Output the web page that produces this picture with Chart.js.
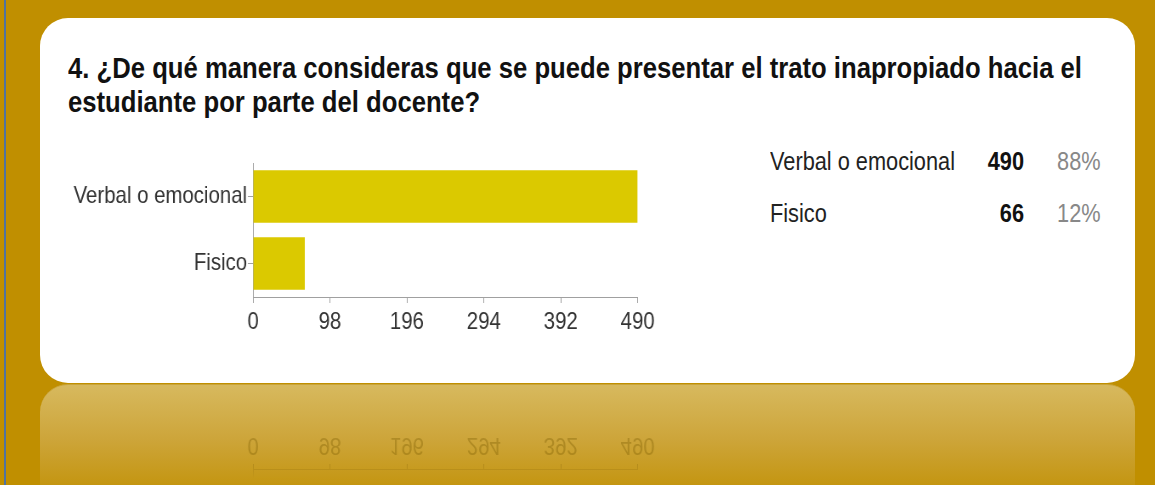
<!DOCTYPE html>
<html>
<head>
<meta charset="utf-8">
<script src="https://cdn.jsdelivr.net/npm/chart.js@4/dist/chart.umd.min.js"></script>
<style>
  html, body { margin: 0; padding: 0; }
  body {
    width: 1155px; height: 485px; overflow: hidden; position: relative;
    background: #c08f00;
    font-family: "Liberation Sans", Arial, sans-serif;
  }
  #edge { position: absolute; left: 4px; top: 0; width: 2px; height: 485px; background: #4f73a0; }
  #card {
    position: absolute; left: 40px; top: 18px; width: 1095px; height: 365px;
    background: #fff; border-radius: 28px; overflow: hidden;
  }
  #reflect {
    position: absolute; left: 40px; top: 384px; width: 1095px; height: 120px;
    border-radius: 28px 28px 0 0; overflow: hidden;
    background: linear-gradient(to bottom, #d7b95e 0%, #cda53a 45%, #c08f00 100%);
    border-top: 1px solid #c9a43a;
  }
  #fade {
    position: absolute; left: 0; top: 0; width: 100%; height: 100%;
    -webkit-mask-image: linear-gradient(to bottom, #000 0px, #000 80px, transparent 94px);
    mask-image: linear-gradient(to bottom, #000 0px, #000 80px, transparent 94px);
  }
  #title {
    position: absolute; left: 28px; top: 33px; width: 1200px;
    font-weight: bold; font-size: 29px; line-height: 34px; color: #111;
  }
  #title span { display: inline-block; white-space: nowrap; transform-origin: 0 50%; }
  /* chart is drawn wider and squeezed, like the narrow face of the original */
  .chartbox {
    position: absolute; left: 20px; top: 122px; width: 729px; height: 197px;
    transform-origin: 0 50%; transform: scaleX(0.85);
  }
  #reflectBox { transform: scaleY(-1) scaleX(0.85); opacity: 0.35; top: 45px; }
  #table {
    position: absolute; left: 730px; top: 129px; font-size: 25px; color: #222;
    transform-origin: 0 0; transform: scaleX(0.87);
  }
  #table div { position: relative; height: 52px; width: 420px; }
  #table span { position: absolute; top: 0; }
  .lab { left: 0; }
  .cnt { right: 128px; font-weight: bold; color: #111; }
  .pct { left: 330px; color: #888; }
</style>
</head>
<body>
<div id="edge"></div>
<div id="card">
  <div id="title"><span id="t1">4. ¿De qué manera consideras que se puede presentar el trato inapropiado hacia el</span><br><span id="t2">estudiante por parte del docente?</span></div>
  <div class="chartbox"><canvas id="chart"></canvas></div>
  <div id="table"></div>
</div>
<div id="reflect">
  <div id="fade">
    <div class="chartbox" id="reflectBox"><canvas id="chartReflect"></canvas></div>
  </div>
</div>
<script>
const categories = ['Verbal o emocional', 'Fisico'];
const counts = [490, 66];
const percents = ['88%', '12%'];
const xTicks = [0, 98, 196, 294, 392, 490];

const barColor = '#dbc900';
const axisColor = '#a0a0a0';
const fontFamily = '"Liberation Sans", Arial, sans-serif';
const squeezeX = 0.85;

// the original title is set in a narrow face: squeeze the first line to its width
const t1 = document.getElementById('t1');
const squeeze = 1014 / t1.getBoundingClientRect().width;
t1.style.transform = 'scaleX(' + squeeze + ')';
document.getElementById('t2').style.transform = 'scaleX(' + squeeze + ')';

function makeChart(canvasId, textColor, lineColor) {
  const ctx = document.getElementById(canvasId).getContext('2d');
  return new Chart(ctx, {
    type: 'bar',
    data: {
      labels: categories,
      datasets: [{
        data: counts,
        backgroundColor: barColor,
        borderWidth: 0,
        categoryPercentage: 0.78,
        barPercentage: 1.0
      }]
    },
    options: {
      indexAxis: 'y',
      responsive: true,
      maintainAspectRatio: false,
      animation: false,
      layout: { padding: { top: 23, right: 42 / squeezeX, left: 0, bottom: 0 } },
      plugins: { legend: { display: false }, tooltip: { enabled: false } },
      scales: {
        x: {
          min: 0, max: 490,
          afterBuildTicks: function(scale) {
            scale.ticks = xTicks.map(v => ({ value: v }));
          },
          afterFit: function(scale) { scale.height = 40; },
          grid: { drawOnChartArea: false, color: lineColor, tickLength: 6 },
          border: { color: lineColor },
          ticks: { color: textColor, padding: 5, font: { family: fontFamily, size: 24 } }
        },
        y: {
          afterFit: function(scale) { scale.width = 193 / squeezeX; },
          grid: { drawOnChartArea: false, color: lineColor, tickLength: 6, offset: false },
          border: { color: lineColor },
          ticks: { color: textColor, padding: 1, font: { family: fontFamily, size: 24 } }
        }
      }
    }
  });
}

makeChart('chart', '#333', axisColor);
// faded mirror image under the card
makeChart('chartReflect', '#7a5c00', '#8a6a10');

// summary table on the right
const table = document.getElementById('table');
categories.forEach(function(cat, i) {
  const row = document.createElement('div');
  row.innerHTML = '<span class="lab">' + cat + '</span><span class="cnt">' + counts[i] +
    '</span><span class="pct">' + percents[i] + '</span>';
  table.appendChild(row);
});
</script>
</body>
</html>
